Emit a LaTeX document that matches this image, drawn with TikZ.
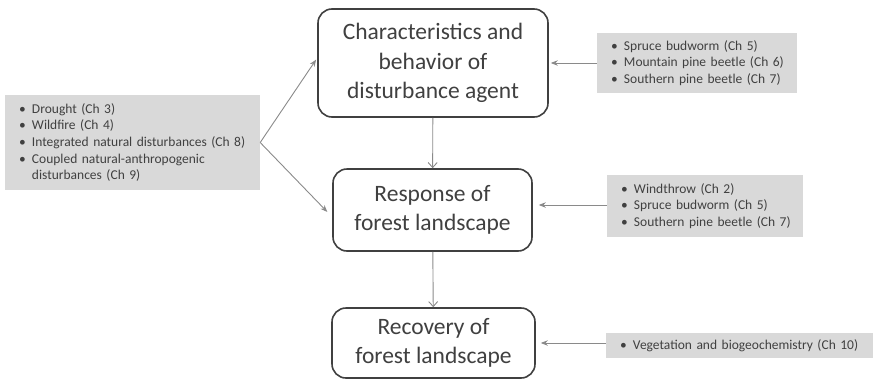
\documentclass[tikz,border=0pt]{standalone}
\usepackage{fontspec}
\setmainfont{Carlito}
\usetikzlibrary{arrows.meta}
\definecolor{boxgray}{HTML}{D9D9D9}
\definecolor{linegray}{HTML}{8A8A8A}
\definecolor{textgray}{HTML}{404040}
\newcommand{\itm}[1]{\mbox{\makebox[13pt][l]{\textbullet}#1}}
\tikzset{
  stage/.style={draw=textgray, line width=1.6pt, rounded corners=14pt, fill=white,
    text=textgray, align=center, inner sep=0pt, font=\fontsize{23.5}{29.5}\selectfont},
  notes/.style={fill=boxgray, text=textgray, align=left, inner xsep=14pt, inner ysep=0pt,
    font=\fontsize{13.5}{16.7}\selectfont},
  feed/.style={draw=linegray, line width=0.9pt, -{Stealth[length=7pt,width=5.5pt]}},
  flow/.style={draw=linegray, line width=0.9pt, -{Straight Barb[length=5pt,width=9pt]}},
}
\begin{document}
\begin{tikzpicture}[x=1pt,y=-1pt]
    \useasboundingbox (0,0) rectangle (874,383);

    % Cajas centrales
    \node[stage, minimum width=230pt, minimum height=108pt] (agent) at (433,63)
        {Characteristics and\\behavior of\\disturbance agent};
    \node[stage, minimum width=199pt, minimum height=82pt] (response) at (432.5,210)
        {Response of\\forest landscape};
    \node[stage, minimum width=203pt, minimum height=70pt] (recovery) at (433.5,343)
        {Recovery of\\forest landscape};

    % Cajas grises con los capitulos
    \node[notes, text width=227pt, minimum height=95pt] (drivers) at (132.5,142.5)
        {\itm{Drought (Ch 3)}\\
         \itm{Wildfire (Ch 4)}\\
         \itm{Integrated natural disturbances (Ch 8)}\\
         \itm{Coupled natural-anthropogenic}\\
         \hspace*{13pt}disturbances (Ch 9)};
    \node[notes, text width=172pt, minimum height=60pt] (insects) at (697,63)
        {\itm{Spruce budworm (Ch 5)}\\
         \itm{Mountain pine beetle (Ch 6)}\\
         \itm{Southern pine beetle (Ch 7)}};
    \node[notes, text width=168pt, minimum height=62pt] (wind) at (705,206)
        {\itm{Windthrow (Ch 2)}\\
         \itm{Spruce budworm (Ch 5)}\\
         \itm{Southern pine beetle (Ch 7)}};
    \node[notes, text width=239pt, minimum height=25pt] (veg) at (739.5,345.5)
        {\itm{Vegetation and biogeochemistry (Ch 10)}};

    % Flechas
    \draw[flow] (agent) -- (response);
    \draw[flow] (response) -- (recovery);
    \draw[feed, shorten >=2pt] (drivers.east) -- ([yshift=5pt]agent.west);
    \draw[feed, shorten >=7pt] (drivers.east) -- ([yshift=-7pt]response.west);
    \draw[feed, shorten >=2pt] (insects.west) -- (insects.west -| agent.east);
    \draw[feed, shorten >=6pt] ([yshift=1pt]wind.west) -- ([yshift=1pt]wind.west -| response.east);
    \draw[feed, shorten >=5pt] ([yshift=2.5pt]veg.west) -- ([yshift=2.5pt]veg.west -| recovery.east);

\end{tikzpicture}
\end{document}
